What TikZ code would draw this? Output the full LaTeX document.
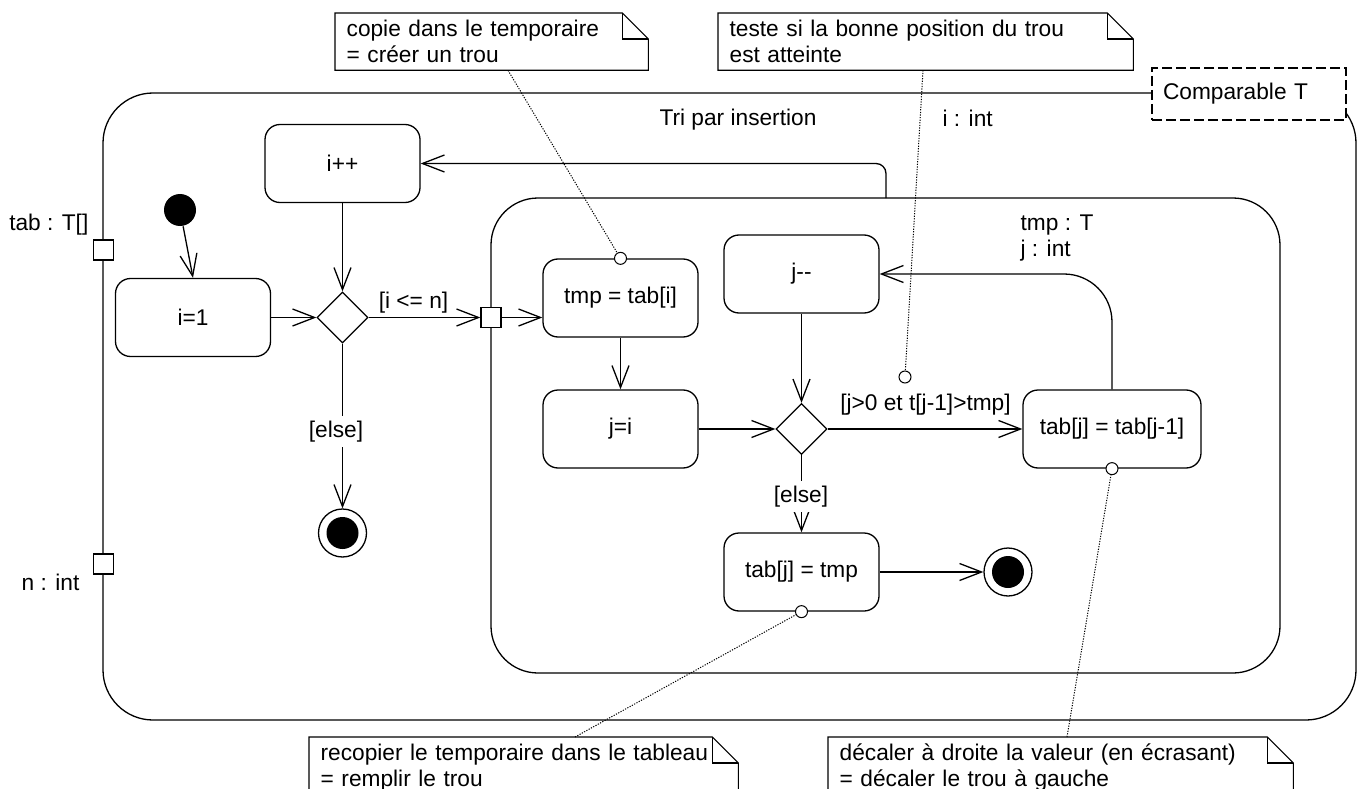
\documentclass[tikz,border=0pt]{standalone}
\usepackage{fontspec}
\setmainfont{Liberation Sans}
\usetikzlibrary{arrows.meta,shapes.geometric}
\newcommand\mynote[1]{%
 \draw[line width=1.1pt] (#1.south west) -- (#1.north west) -- ([xshift=-26pt]#1.north east) -- ([yshift=-26pt]#1.north east) -- (#1.south east) -- cycle;
 \draw[line width=1.1pt] ([xshift=-26pt]#1.north east) |- ([yshift=-26pt]#1.north east);}
\begin{document}
\begin{tikzpicture}[x=1pt,y=-1pt,
  font=\fontsize{22.7}{26}\selectfont,
  line width=1.3pt,
  arr/.style={-{Straight Barb[length=22pt,width=17pt]}},
  action/.style={draw, rounded corners=15pt, minimum width=155pt, minimum height=78pt, inner sep=2pt, fill=white},
  decision/.style={draw, diamond, minimum width=51pt, minimum height=51pt, inner sep=0pt, aspect=1, fill=white},
  port/.style={draw, fill=white, minimum size=20pt, inner sep=0pt},
  anchorpt/.style={draw, circle, fill=white, minimum size=12pt, inner sep=0pt, line width=1pt},
  finalnode/.style={draw, circle, minimum size=48pt, inner sep=0pt, fill=white,
     path picture={\fill[black] (path picture bounding box.center) circle (16);}},
  notebox/.style={anchor=north west, inner xsep=11pt, inner ysep=0pt, minimum height=56pt, align=left},
  link/.style={dash pattern=on 1.2pt off 1.4pt, line width=1pt},
  txt/.style={inner sep=0pt},
  guard/.style={fill=white, inner xsep=2pt, inner ysep=5pt},
]
\useasboundingbox (0,0) rectangle (1358,789);
\clip (0,0) rectangle (1358,789);

% frames
\node[draw, rounded corners=50pt, minimum width=1253pt, minimum height=627pt, inner sep=0pt] (outer) at (729.5,406.5) {};
\node[draw, rounded corners=47pt, minimum width=789pt, minimum height=475pt, inner sep=0pt] (inner) at (885.5,435.5) {};
\node[draw, dash pattern=on 10pt off 4pt, line width=1.1pt, fill=white, minimum width=194pt, minimum height=52pt, text width=172pt, inner xsep=0pt, align=left] (tparam) at (1249,94) {Comparable T};

% texts
\node[txt, anchor=base] (title) at (738,126) {Tri par insertion};
\node[txt, anchor=base west] (ivar) at (942,127) {i : int};
\node[txt, anchor=base west] (tmpvar) at (1020,230) {tmp : T};
\node[txt, anchor=base west] (jvar) at (1020,256) {j : int};
\node[txt, anchor=base east] (tabvar) at (89,230) {tab : T[]};
\node[txt, anchor=base east] (nvar) at (80,590) {n : int};

% ports
\node[port] (ptab) at (103.5,250) {};
\node[port] (pn) at (103.5,564) {};
\node[port] (pin) at (491,317.5) {};

% outer activity
\node[circle, fill=black, minimum size=32pt, inner sep=0pt] (init) at (180,210) {};
\node[action] (i1) at (193,317.5) {i=1};
\node[action] (ipp) at (342.5,163.5) {i++};
\node[decision] (d1) at (342.5,317.5) {};
\node[finalnode] (f1) at (342.5,533) {};

% inner activity
\node[action] (tmp) at (620.5,298) {tmp = tab[i]};
\node[action] (ji) at (620.5,429) {j=i};
\node[action] (jmm) at (801.5,274) {j-{}-};
\node[decision] (d2) at (801.5,429) {};
\node[action, minimum width=178pt] (tj) at (1112,429) {tab[j] = tab[j-1]};
\node[action] (tt) at (801.5,572) {tab[j] = tmp};
\node[finalnode] (f2) at (1008,572) {};

% flows
\draw[arr] (init) -- (i1.north);
\draw[arr] (i1) -- (d1);
\draw[arr] (ipp) -- (d1);
\draw[arr] (d1) -- (pin);
\node[txt, anchor=base] (g1) at (413.5,308) {[i <= n]};
\draw[arr] (pin.east) -- (pin.east -| tmp.west);
\draw[arr] (d1) -- (f1);
\node[guard, anchor=base] (else1) at (336,437) {[else]};
\coordinate (loopstart) at (886,198);
\draw[arr, rounded corners=10pt] (loopstart) |- (ipp.east);

\draw[arr] (tmp.south) -- (ji.north);
\draw[arr] (ji) -- (d2);
\draw[arr] (jmm) -- (d2);
\draw[arr] (d2) -- (tj);
\node[txt, anchor=base] (g2) at (925.5,410) {[j>0 et t[j-1]>tmp]};
\draw[arr] (d2) -- (tt);
\node[guard, anchor=base] (else2) at (801,502) {[else]};
\draw[arr] (tt) -- (f2);
\draw[arr, rounded corners=48pt] (tj.north) |- (jmm.east);

% notes
\node[notebox, minimum width=312pt, text width=290pt] (n1) at (335,13) {\rule{0pt}{20pt}copie dans le temporaire\\= créer un trou\rule[-5pt]{0pt}{5pt}};
\mynote{n1}
\node[notebox, minimum width=414pt, text width=392pt] (n2) at (718,13) {\rule{0pt}{20pt}teste si la bonne position du trou\\est atteinte\rule[-5pt]{0pt}{5pt}};
\mynote{n2}
\node[notebox, minimum width=428pt, text width=406pt] (n3) at (309,737) {\rule{0pt}{20pt}recopier le temporaire dans le tableau\\= remplir le trou\rule[-5pt]{0pt}{5pt}};
\mynote{n3}
\node[notebox, minimum width=464pt, text width=442pt] (n4) at (828,737) {\rule{0pt}{20pt}décaler à droite la valeur (en écrasant)\\= décaler le trou à gauche\rule[-5pt]{0pt}{5pt}};
\mynote{n4}

% note anchors
\node[anchorpt] (c1) at (tmp.north) {};
\node[anchorpt] (c2) at (905,377) {};
\node[anchorpt] (c3) at (tt.south) {};
\node[anchorpt] (c4) at (tj.south) {};

\draw[link] ([xshift=173pt]n1.south west) -- (c1);
\draw[link] ([xshift=205pt]n2.south west) -- (c2);
\draw[link] ([xshift=266pt]n3.north west) -- (c3);
\draw[link] ([xshift=239pt]n4.north west) -- (c4);
\end{tikzpicture}
\end{document}
